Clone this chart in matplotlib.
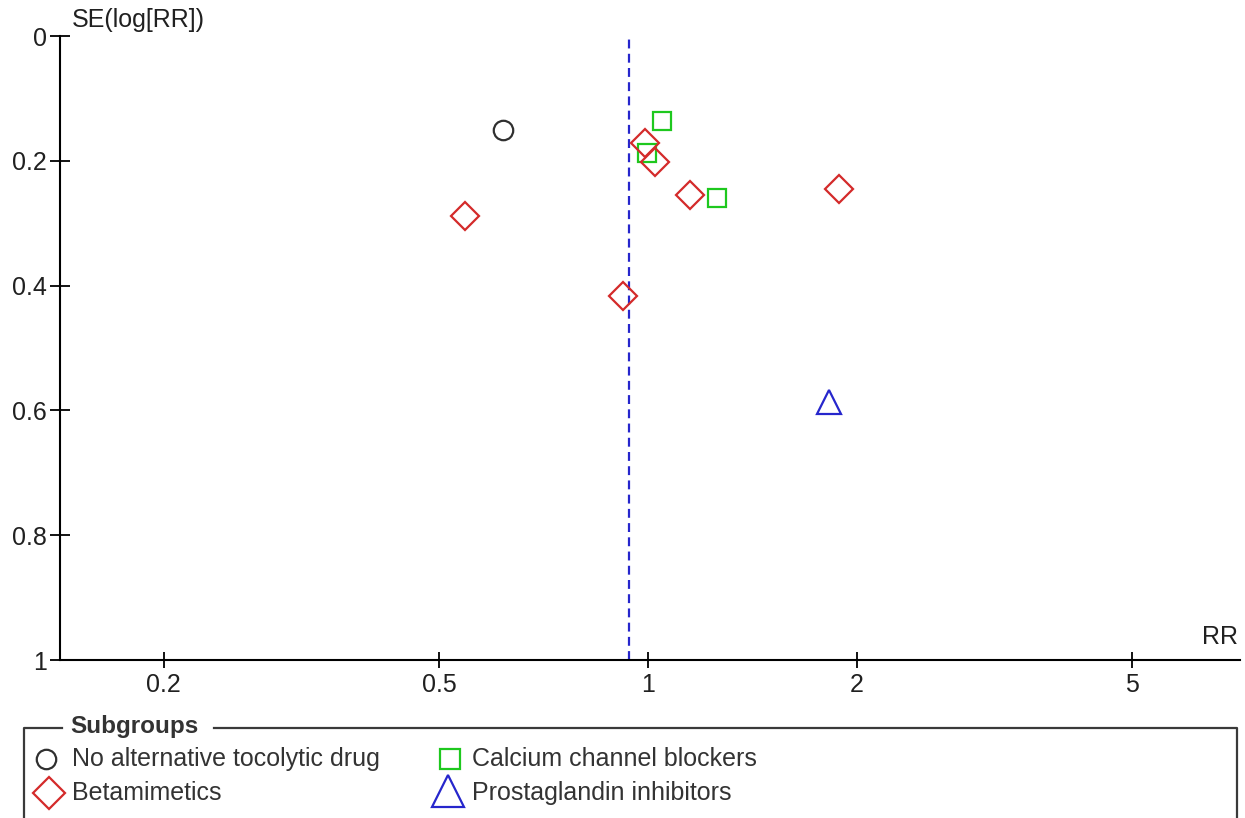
import matplotlib
matplotlib.use("Agg")
import matplotlib.pyplot as plt
from matplotlib.ticker import NullLocator, FixedLocator, FixedFormatter

plt.rcParams['font.family'] = ['Liberation Sans', 'DejaVu Sans']

# ---- data: risk ratio and SE(log RR) per study, by subgroup ----
no_alt_rr = [0.617]
no_alt_se = [0.151]

ccb_rr = [1.046, 0.997, 1.259]
ccb_se = [0.136, 0.187, 0.259]

beta_rr = [0.545, 0.921, 0.990, 1.024, 1.148, 1.888]
beta_se = [0.289, 0.416, 0.172, 0.202, 0.255, 0.245]

pg_rr = [1.826]
pg_se = [0.587]

pooled_rr = 0.94

subgroup_names = ["No alternative tocolytic drug", "Calcium channel blockers",
                  "Betamimetics", "Prostaglandin inhibitors"]

x_ticks = [0.2, 0.5, 1, 2, 5]
x_tick_labels = ["0.2", "0.5", "1", "2", "5"]
y_ticks = [0, 0.2, 0.4, 0.6, 0.8, 1.0]
y_tick_labels = ["0", "0.2", "0.4", "0.6", "0.8", "1"]

# ---- styles ----
C_CIRCLE = "#303030"
C_GREEN = "#1ec81e"
C_RED = "#d42a2a"
C_BLUE = "#2626cc"
FS = 18

W, H = 1245, 818
fig = plt.figure(figsize=(W / 100, H / 100), dpi=100)

ax = fig.add_axes([60 / W, (H - 660) / H, 1180 / W, 624 / H])
ax.set_xscale("log")
ax.set_xlim(0.1417, 7.15)
ax.set_ylim(1.0, 0.0)

for s in ("top", "right"):
    ax.spines[s].set_visible(False)
for s in ("left", "bottom"):
    ax.spines[s].set_linewidth(1.5)
    ax.spines[s].set_color("black")

ax.xaxis.set_major_locator(FixedLocator(x_ticks))
ax.xaxis.set_major_formatter(FixedFormatter(x_tick_labels))
ax.xaxis.set_minor_locator(NullLocator())
ax.yaxis.set_major_locator(FixedLocator(y_ticks))
ax.yaxis.set_major_formatter(FixedFormatter(y_tick_labels))
ax.yaxis.set_minor_locator(NullLocator())
ax.tick_params(axis="x", direction="inout", length=12, width=1.3,
               labelsize=FS, pad=3, labelcolor="#202020")
ax.tick_params(axis="y", direction="inout", length=14.5, width=1.3,
               labelsize=FS, pad=2, labelcolor="#202020")

# pooled estimate
ax.axvline(pooled_rr, color=C_BLUE, lw=1.6, dashes=(4.0, 2.4), zorder=1)

mk = dict(linestyle="none", mfc="none", clip_on=False, zorder=3)
ax.plot(no_alt_rr, no_alt_se, marker="o", ms=14, mec=C_CIRCLE, mew=1.6, **mk)
ax.plot(ccb_rr, ccb_se, marker="s", ms=12.5, mec=C_GREEN, mew=1.6, **mk)
ax.plot(beta_rr, beta_se, marker="D", ms=14, mec=C_RED, mew=1.6, **mk)
ax.plot(pg_rr, pg_se, marker="^", ms=17, mec=C_BLUE, mew=1.6, **mk)

fig.text(72 / W, 1 - 20 / H, "SE(log[RR])", ha="left", va="center",
         fontsize=FS, color="#202020")
fig.text(1238 / W, 1 - 637 / H, "RR", ha="right", va="center",
         fontsize=FS, color="#202020")

# ---- subgroup legend box ----
lax = fig.add_axes([0, 0, 1, 1], zorder=5)
lax.set_xlim(0, W)
lax.set_ylim(H, 0)
lax.axis("off")
box_c = "#3a3a3a"
lax.plot([24, 24, 62], [H + 5, 728, 728], color=box_c, lw=1.6, clip_on=False)
lax.plot([214, 1237, 1237], [728, 728, H + 5], color=box_c, lw=1.6, clip_on=False)
lax.text(70, 727, "Subgroups", fontsize=FS - 0.5, fontweight="bold",
         color="#333333", ha="left", va="center")

lk = dict(linestyle="none", mfc="none", mew=1.6)
lax.plot([46], [759], marker="o", ms=14, mec=C_CIRCLE, **lk)
lax.plot([450], [759], marker="s", ms=14, mec=C_GREEN, **lk)
lax.plot([49], [793], marker="D", ms=16, mec=C_RED, **lk)
lax.plot([448], [791], marker="^", ms=23, mec=C_BLUE, **lk)

tc = "#333333"
lax.text(72, 759, subgroup_names[0], fontsize=FS, color=tc, ha="left", va="center")
lax.text(472, 759, subgroup_names[1], fontsize=FS, color=tc, ha="left", va="center")
lax.text(72, 793, subgroup_names[2], fontsize=FS, color=tc, ha="left", va="center")
lax.text(472, 793, subgroup_names[3], fontsize=FS, color=tc, ha="left", va="center")

fig.savefig("out.png", dpi=100, facecolor="white")
